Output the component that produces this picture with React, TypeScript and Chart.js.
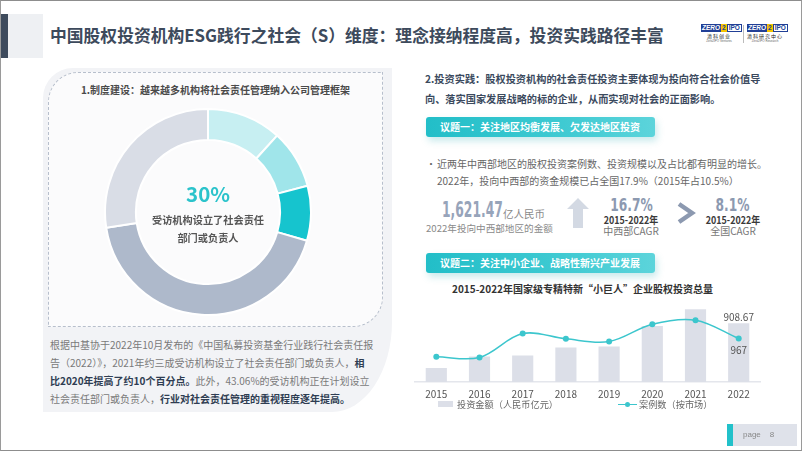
import React, { useEffect, useRef } from "react";
import { Chart, registerables } from "chart.js";

Chart.register(...registerables);

const CJK = "'Noto Sans CJK SC', 'Noto Sans', sans-serif";
Chart.defaults.font.family = CJK;

// ---- Donut data (share of surveyed institutions) ----
const donutLabels = ["已设立（一）", "已设立（二）", "已设立（三）", "正在计划设立", "其他"];
const donutValues = [11.7, 9.2, 8.6, 43.06, 27.44];
const donutColors = ["#c7eff2", "#a0e5ea", "#16c4ce", "#aeb9cb", "#d9dde6"];

// ---- Bar + line data ----
const years = ["2015", "2016", "2017", "2018", "2019", "2020", "2021", "2022"];
const investAmount = [216, 395, 410, 533, 548, 867, 1124, 908.67];
const caseCount = [561, 546, 1078, 960, 900, 1286, 1375, 967];
const barSeriesName = "投资金额（人民币亿元）";
const lineSeriesName = "案例数（按市场）";

const valueLabelPlugin = {
  id: "valueLabels",
  afterDatasetsDraw(chart: any) {
    const ctx = chart.ctx;
    const last = years.length - 1;
    const barEl = chart.getDatasetMeta(0).data[last];
    const ptEl = chart.getDatasetMeta(1).data[last];
    ctx.save();
    ctx.font = `10px ${CJK}`;
    ctx.fillStyle = "#555";
    ctx.textAlign = "center";
    ctx.textBaseline = "bottom";
    ctx.fillText(String(investAmount[last]), barEl.x, barEl.y - 1);
    ctx.textBaseline = "top";
    ctx.fillText(String(caseCount[last]), ptEl.x, ptEl.y + 7);
    ctx.restore();
  },
};

function Donut() {
  const ref = useRef<HTMLCanvasElement>(null);
  useEffect(() => {
    const chart = new Chart(ref.current!, {
      type: "doughnut",
      data: {
        labels: donutLabels,
        datasets: [
          {
            data: donutValues,
            backgroundColor: donutColors,
            borderColor: "#ffffff",
            borderWidth: 2,
          },
        ],
      },
      options: {
        responsive: false,
        animation: false,
        cutout: "70%",
        layout: { padding: 0 },
        plugins: { legend: { display: false }, tooltip: { enabled: false } },
      },
    });
    return () => chart.destroy();
  }, []);
  return (
    <canvas
      ref={ref}
      width={208}
      height={208}
      style={{ position: "absolute", left: 104, top: 108, width: 208, height: 208 }}
    />
  );
}

function Combo() {
  const ref = useRef<HTMLCanvasElement>(null);
  useEffect(() => {
    const chart = new Chart(ref.current!, {
      type: "bar",
      data: {
        labels: years,
        datasets: [
          {
            type: "bar",
            label: barSeriesName,
            data: investAmount,
            backgroundColor: "#dcdfe8",
            yAxisID: "y",
            barPercentage: 0.49,
            categoryPercentage: 1,
            order: 2,
          },
          {
            type: "line",
            label: lineSeriesName,
            data: caseCount,
            borderColor: "#3cc6cd",
            backgroundColor: "#3cc6cd",
            borderWidth: 1.5,
            pointRadius: 3,
            pointBackgroundColor: "#3cc6cd",
            pointBorderWidth: 0,
            tension: 0.35,
            yAxisID: "y2",
            order: 1,
            clip: false,
          },
        ],
      },
      options: {
        responsive: false,
        animation: false,
        layout: { autoPadding: false, padding: { left: 4.7, right: 4.7, top: 0, bottom: 0 } },
        plugins: { legend: { display: false }, tooltip: { enabled: false } },
        scales: {
          x: {
            offset: true,
            grid: { display: false, drawTicks: false },
            border: { display: true, color: "#e4e6ec", width: 1.5 },
            ticks: { color: "#555", font: { size: 10 }, padding: 6 },
          },
          y: { display: false, min: 0, max: 1267 },
          y2: { display: false, min: 0, max: 1825 },
        },
      },
      plugins: [valueLabelPlugin],
    });
    return () => chart.destroy();
  }, []);
  return (
    <canvas
      ref={ref}
      width={355}
      height={106}
      style={{ position: "absolute", left: 410, top: 300, width: 355, height: 106 }}
    />
  );
}

const abs = (s: any): any => ({ position: "absolute", whiteSpace: "nowrap", ...s });

function Logo({ left, sub, sub2 }: { left: number; sub: string; sub2: string }) {
  return (
    <div style={abs({ left, top: 24, width: 36, height: 20 })}>
      <div style={{ display: "flex", height: 8, fontFamily: "'Liberation Sans', sans-serif", fontSize: 6.5, fontWeight: 700, lineHeight: "8px" }}>
        <span style={{ background: "#213f96", color: "#fff", padding: "0 1px", fontStyle: "italic" }}>ZERO</span>
        <span style={{ background: "#f5c400", color: "#213f96", padding: "0 1px" }}>2</span>
        <span style={{ border: "1px solid #213f96", color: "#213f96", padding: "0 1px", lineHeight: "6px" }}>IPO</span>
      </div>
      <div style={{ fontSize: 5, color: "#222", fontFamily: CJK, lineHeight: "7px", textAlign: "center", letterSpacing: 1 }}>{sub}</div>
      <div style={{ fontSize: 3, color: "#666", fontFamily: "'Liberation Sans', sans-serif", lineHeight: "4px", textAlign: "center" }}>{sub2}</div>
    </div>
  );
}

function Banner({ top, text }: { top: number; text: string }) {
  return (
    <div
      style={abs({
        left: 426,
        top,
        width: 229,
        height: 20,
        borderRadius: 3,
        background: "linear-gradient(90deg, #22bec8 0%, #3fcad2 60%, #5cd4db 100%)",
        boxShadow: "2px 4px 7px rgba(40,170,180,0.25)",
        color: "#fff",
        fontWeight: 700,
        fontSize: 10,
        lineHeight: "20px",
        paddingLeft: 14,
        boxSizing: "border-box",
      })}
    >
      {text}
    </div>
  );
}

function Stat({ cx, big, l1, l2 }: { cx: number; big: string; l1: string; l2: string }) {
  return (
    <>
      <div style={abs({ left: cx - 40, width: 80, top: 194, height: 20, lineHeight: "20px", textAlign: "center" })}>
        <span style={{ display: "inline-block", transform: "scaleX(0.72)", fontWeight: 700, fontSize: 17, color: "#8c99b0", fontFamily: "'DejaVu Sans', sans-serif" }}>{big}</span>
      </div>
      <div style={abs({ left: cx - 40, width: 80, top: 211, height: 13, lineHeight: "13px", textAlign: "center" })}>
        <span style={{ display: "inline-block", transform: "scaleX(0.85)", fontWeight: 700, fontSize: 10.5, color: "#3a3a3a" }}>{l1}</span>
      </div>
      <div style={abs({ left: cx - 40, width: 80, top: 224, height: 13, lineHeight: "13px", textAlign: "center", fontSize: 10, color: "#777" })}>{l2}</div>
    </>
  );
}

export default function App() {
  const bold = { fontWeight: 700, color: "#2f3d52" };
  return (
    <div
      style={{
        position: "absolute",
        left: 0,
        top: 0,
        width: 802,
        height: 451,
        overflow: "hidden",
        background: "#ffffff",
        fontFamily: CJK,
      }}
    >
      {/* header */}
      <div style={abs({ left: 0, top: 14, width: 8, height: 44, background: "#3e4b5d" })} />
      <div style={abs({ left: 8, top: 14, width: 35, height: 44, background: "#eef0f3" })} />
      <div style={abs({ left: 50, top: 23, height: 24, lineHeight: "24px", fontSize: 16.8, fontWeight: 700, color: "#3d4a5c" })}>
        中国股权投资机构ESG践行之社会（S）维度：理念接纳程度高，投资实践路径丰富
      </div>
      <Logo left={701} sub="清科创业" sub2="Zero2IPO Ventures" />
      <div style={abs({ left: 743, top: 25, width: 1, height: 18, background: "#bbb" })} />
      <Logo left={747} sub="清科研究中心" sub2="Zero2IPO Research" />

      {/* left panel */}
      <div
        style={abs({
          left: 43,
          top: 68,
          width: 349,
          height: 344,
          background: "#f2f3f6",
          borderRadius: "30px 0 60px 0 / 30px 0 90px 0",
        })}
      />
      <div
        style={abs({
          left: 48,
          top: 72,
          width: 335,
          height: 255,
          boxSizing: "border-box",
          border: "1px dashed #b7bfcc",
          background: "#fbfbfc",
          borderRadius: "30px 0 30px 0",
        })}
      />
      <div style={abs({ left: 48, width: 335, top: 83, height: 14, lineHeight: "14px", textAlign: "center", fontSize: 10, fontWeight: 700, color: "#4a4a4a" })}>
        1.制度建设：越来越多机构将社会责任管理纳入公司管理框架
      </div>
      <Donut />
      <div style={abs({ left: 148, width: 120, top: 180, height: 26, lineHeight: "26px", textAlign: "center", fontSize: 20.5, fontWeight: 700, color: "#2bc3cb" })}>
        30%
      </div>
      <div style={abs({ left: 138, width: 140, top: 212, height: 16, lineHeight: "16px", textAlign: "center", fontSize: 10.2, fontWeight: 700, color: "#555" })}>
        受访机构设立了社会责任
      </div>
      <div style={abs({ left: 138, width: 140, top: 230, height: 16, lineHeight: "16px", textAlign: "center", fontSize: 10.2, fontWeight: 700, color: "#555" })}>
        部门或负责人
      </div>
      <div style={abs({ left: 50, top: 336, fontSize: 10, lineHeight: "18px", color: "#7a7a7a" })}>
        <div>根据中基协于2022年10月发布的《中国私募投资基金行业践行社会责任报</div>
        <div>告（2022）》，2021年约三成受访机构设立了社会责任部门或负责人，<span style={bold}>相</span></div>
        <div><span style={bold}>比2020年提高了约10个百分点。</span>此外，43.06%的受访机构正在计划设立</div>
        <div>社会责任部门或负责人，<span style={bold}>行业对社会责任管理的重视程度逐年提高。</span></div>
      </div>

      {/* right side */}
      <div style={abs({ left: 425, top: 69, fontSize: 10.2, lineHeight: "20px", fontWeight: 700, color: "#3b4a5e" })}>
        <div>2.投资实践：股权投资机构的社会责任投资主要体现为投向符合社会价值导</div>
        <div>向、落实国家发展战略的标的企业，从而实现对社会的正面影响。</div>
      </div>
      <Banner top={117} text="议题一：关注地区均衡发展、欠发达地区投资" />
      <div style={abs({ left: 426, top: 155, fontSize: 10, lineHeight: "17px", color: "#666" })}>•</div>
      <div style={abs({ left: 437, top: 155, fontSize: 10, lineHeight: "17px", color: "#666" })}>
        <div>近两年中西部地区的股权投资案例数、投资规模以及占比都有明显的增长。</div>
        <div>2022年，投向中西部的资金规模已占全国17.9%（2015年占10.5%）</div>
      </div>

      <div style={abs({ left: 442, top: 197, height: 26, lineHeight: "26px" })}>
        <span style={{ display: "inline-block", transform: "scaleX(0.56)", transformOrigin: "left center", fontWeight: 700, fontSize: 22, color: "#97a4ba", fontFamily: "'DejaVu Sans', sans-serif" }}>1,621.47</span>
      </div>
      <div style={abs({ left: 503, top: 207, height: 14, lineHeight: "14px", fontSize: 10.5, color: "#8a8a8a" })}>亿人民币</div>
      <div style={abs({ left: 426, top: 221, height: 14, lineHeight: "14px", fontSize: 9.6, color: "#8a8a8a" })}>2022年投向中西部地区的金额</div>

      <svg style={{ position: "absolute", left: 566, top: 197 }} width={24} height={32}>
        <polygon points="12,1 23,12 17,12 17,31 7,31 7,12 1,12" fill="#d3d9e3" />
      </svg>
      <Stat cx={631} big="16.7%" l1="2015-2022年" l2="中西部CAGR" />
      <svg style={{ position: "absolute", left: 676, top: 202 }} width={20} height={22}>
        <polyline points="3,2 16,11 3,20" fill="none" stroke="#8c99b0" strokeWidth={4.5} />
      </svg>
      <Stat cx={733} big="8.1%" l1="2015-2022年" l2="全国CAGR" />

      <Banner top={253} text="议题二：关注中小企业、战略性新兴产业发展" />
      <div style={abs({ left: 410, width: 345, top: 282, height: 14, lineHeight: "14px", textAlign: "center", fontSize: 10, fontWeight: 700, color: "#333" })}>
        2015-2022年国家级专精特新“小巨人”企业股权投资总量
      </div>
      <Combo />
      {/* legend */}
      <div style={abs({ left: 438, top: 401, width: 15, height: 6, background: "#dcdfe8" })} />
      <div style={abs({ left: 457, top: 397, height: 14, lineHeight: "14px", fontSize: 9.2, color: "#666" })}>{barSeriesName}</div>
      <div style={abs({ left: 618, top: 403.5, width: 19, height: 1.5, background: "#3cc6cd" })} />
      <div style={abs({ left: 624.5, top: 401.5, width: 5.5, height: 5.5, borderRadius: 3, background: "#3cc6cd" })} />
      <div style={abs({ left: 639, top: 397, height: 14, lineHeight: "14px", fontSize: 9.2, color: "#666" })}>{lineSeriesName}</div>

      {/* footer */}
      <div style={abs({ left: 727, top: 424, width: 6, height: 22, background: "#22c1ca" })} />
      <div style={abs({ left: 733, top: 424, width: 64, height: 22, background: "#dfe2ea" })} />
      <div style={abs({ left: 743, top: 428, height: 14, lineHeight: "14px", fontSize: 8, color: "#888", fontFamily: "'Liberation Sans', sans-serif" })}>
        page&nbsp;&nbsp;&nbsp;&nbsp;8
      </div>

      {/* slide frame */}
      <div style={abs({ left: 0, top: 0, width: 802, height: 451, boxSizing: "border-box", borderTop: "1.5px solid #8d8d8d", borderLeft: "1px solid #9a9a9a", borderBottom: "1.5px solid #8d8d8d", borderRight: "1px solid #9a9a9a", pointerEvents: "none" })} />
    </div>
  );
}
